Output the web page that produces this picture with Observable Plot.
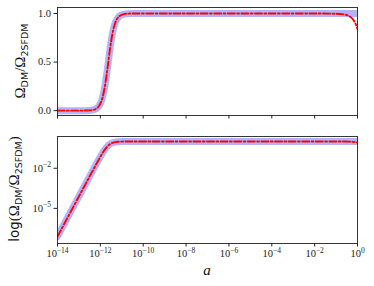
<!DOCTYPE html>
<html><head><meta charset="utf-8">
<script src="https://cdn.jsdelivr.net/npm/d3@7"></script>
<script src="https://cdn.jsdelivr.net/npm/@observablehq/plot@0.6"></script>
<style>
body{margin:0;background:#fff;}
#wrap{position:relative;width:374px;height:286px;overflow:hidden;}
#wrap svg{position:absolute;left:0;}
</style></head><body><div id="wrap"></div>
<script>
// log10(a) sample points
const logA = [-14,-13.5,-13,-12.5,-12.25,-12,-11.9,-11.8,-11.7,-11.6,-11.5,-11.4,-11.3,-11.2,-11.1,-11,-10.75,-10.5,-10,-8,-6,-4,-2,-1,-0.6,-0.4,-0.3,-0.2,-0.1,0];
// thick light-blue curve
const blueRatio = [7.8e-8,2.5e-6,7.8e-5,0.00245,0.0136,0.072,0.134,0.236,0.38,0.55,0.71,0.83,0.907,0.951,0.975,0.987,0.998,1,1,1,1,1,1,1,1,1,1,1,1,1];
// red dash-dot curve
const redRatio = [7.8e-8,2.5e-6,7.8e-5,0.00245,0.0136,0.072,0.134,0.236,0.38,0.55,0.71,0.83,0.907,0.951,0.975,0.987,0.998,1,1,1,1,1,1,0.998,0.99,0.975,0.96,0.936,0.899,0.84];
const xTickExps = [-14,-12,-10,-8,-6,-4,-2,0];
const topYTicks = [0,0.5,1];
const bottomYTickExps = [-5,-2];

const data = logA.map((e,i)=>({a:10**e, blue:blueRatio[i], red:redRatio[i]}));
const xTicks = xTickExps.map(e=>10**e);

const serif = "'Liberation Serif', 'DejaVu Serif', serif";
const sans = "'DejaVu Sans', 'Liberation Sans', sans-serif";
const styleObj = {fontFamily: serif, fontSize: "10.5px", color: "#222", background: "transparent", overflow: "visible"};

function lineMarks(){
  return [
    Plot.line(data, {x:"a", y:"blue", stroke:"#b3b3f7", strokeWidth:7, curve:"monotone-x", clip:true, strokeLinejoin:"round"}),
    Plot.line(data, {x:"a", y:"red", stroke:"#ff0000", strokeWidth:1.9, strokeDasharray:"7,2.4,1.8,2.4", curve:"monotone-x", clip:true}),
    Plot.frame({stroke:"#222", strokeWidth:0.9})
  ];
}

const topChart = Plot.plot({
  width:374, height:125, marginTop:7, marginBottom:10, marginLeft:57, marginRight:17,
  style: styleObj,
  x:{type:"log", domain:[1e-14,1], ticks:xTicks, tickFormat:()=>"", tickSize:3.5, label:null},
  y:{domain:[-0.05,1.062], ticks:topYTicks, tickFormat:d3.format(".1f"), tickSize:3.5, tickPadding:3, label:null},
  marks: lineMarks()
});
topChart.style.top = "0px";

const bottomChart = Plot.plot({
  width:374, height:161, marginTop:11, marginBottom:43, marginLeft:57, marginRight:17,
  style: styleObj,
  x:{type:"log", domain:[1e-14,1], ticks:xTicks, tickFormat:d=>"10|"+Math.round(Math.log10(d)), tickSize:3.5, tickPadding:3, label:null},
  y:{type:"log", domain:[10**-7.63, 10**0.375], ticks:bottomYTickExps.map(e=>10**e), tickFormat:d=>"10|"+Math.round(Math.log10(d)), tickSize:3.5, tickPadding:3, label:null},
  marks: lineMarks()
});
bottomChart.style.top = "125px";

const wrap = document.getElementById("wrap");
wrap.appendChild(topChart);
wrap.appendChild(bottomChart);

// superscript tick labels
d3.select(bottomChart).selectAll("text").each(function(){
  const t = this.textContent;
  if (t.includes("|")) {
    const [base, exp] = t.split("|");
    const el = d3.select(this);
    el.text(null);
    el.append("tspan").text(base);
    el.append("tspan").attr("dy","-4.5").attr("font-size","7.5px").text(exp.replace("-","\u2212"));
  }
});

// axis titles
function addYLabel(svg, x, y, parts){
  const t = d3.select(svg).append("text")
    .attr("transform", `translate(${x},${y}) rotate(-90)`)
    .attr("text-anchor","middle").attr("fill","#111");
  let shift = 0;
  for (const p of parts){
    const ts = t.append("tspan").text(p.s).attr("font-family", p.f).attr("font-size", p.size+"px");
    const want = p.sub ? 3 : 0;
    if (want !== shift) { ts.attr("dy", want - shift); shift = want; }
  }
}
addYLabel(topChart, 25, 61, [
  {s:"\u03A9", f:serif, size:15},
  {s:"DM", f:sans, size:9.5, sub:true},
  {s:"/\u03A9", f:serif, size:15},
  {s:"2SFDM", f:sans, size:9.5, sub:true}
]);
addYLabel(bottomChart, 18.5, 64, [
  {s:"log", f:sans, size:13.5},
  {s:"(\u03A9", f:serif, size:15},
  {s:"DM", f:sans, size:9.5, sub:true},
  {s:"/\u03A9", f:serif, size:15},
  {s:"2SFDM", f:sans, size:9.5, sub:true},
  {s:")", f:serif, size:15}
]);
d3.select(bottomChart).append("text")
  .attr("x", 207).attr("y", 150).attr("text-anchor","middle")
  .attr("font-family", serif).attr("font-style","italic").attr("font-size","15px").attr("fill","#111")
  .text("a");
</script></body></html>
